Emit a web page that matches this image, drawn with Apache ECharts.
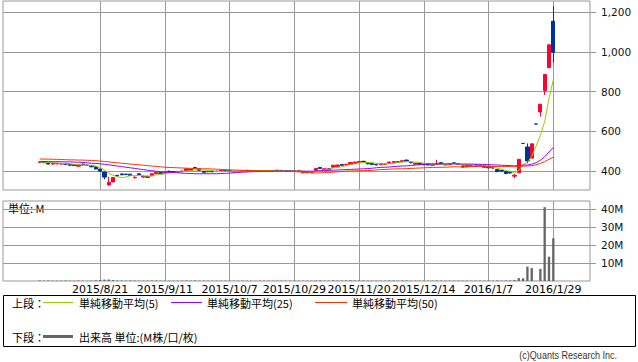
<!DOCTYPE html>
<html><head><meta charset="utf-8">
<script src="https://cdn.jsdelivr.net/npm/echarts@6/dist/echarts.min.js"></script>
<style>html,body{margin:0;padding:0;background:#fff}#c{width:638px;height:362px}</style>
</head><body><div id="c"></div>
<script>
const dates = [
"2015/8/3","2015/8/4","2015/8/5","2015/8/6","2015/8/7","2015/8/10","2015/8/11","2015/8/12","2015/8/13","2015/8/14",
"2015/8/17","2015/8/18","2015/8/19","2015/8/20","2015/8/21","2015/8/24","2015/8/25","2015/8/26","2015/8/27","2015/8/28",
"2015/8/31","2015/9/1","2015/9/2","2015/9/3","2015/9/4","2015/9/7","2015/9/8","2015/9/9","2015/9/10","2015/9/11",
"2015/9/14","2015/9/15","2015/9/16","2015/9/17","2015/9/18","2015/9/24","2015/9/25","2015/9/28","2015/9/29","2015/9/30",
"2015/10/1","2015/10/2","2015/10/5","2015/10/6","2015/10/7","2015/10/8","2015/10/9","2015/10/13","2015/10/14","2015/10/15",
"2015/10/16","2015/10/19","2015/10/20","2015/10/21","2015/10/22","2015/10/23","2015/10/26","2015/10/27","2015/10/28","2015/10/29",
"2015/10/30","2015/11/2","2015/11/4","2015/11/5","2015/11/6","2015/11/9","2015/11/10","2015/11/11","2015/11/12","2015/11/13",
"2015/11/16","2015/11/17","2015/11/18","2015/11/19","2015/11/20","2015/11/24","2015/11/25","2015/11/26","2015/11/27","2015/11/30",
"2015/12/1","2015/12/2","2015/12/3","2015/12/4","2015/12/7","2015/12/8","2015/12/9","2015/12/10","2015/12/11","2015/12/14",
"2015/12/15","2015/12/16","2015/12/17","2015/12/18","2015/12/21","2015/12/22","2015/12/24","2015/12/25","2015/12/28","2015/12/29",
"2015/12/30","2016/1/4","2016/1/5","2016/1/6","2016/1/7","2016/1/8","2016/1/12","2016/1/13","2016/1/14","2016/1/15",
"2016/1/18","2016/1/19","2016/1/20","2016/1/21","2016/1/22","2016/1/25","2016/1/26","2016/1/27","2016/1/28","2016/1/29"];

const tickLabels = ["2015/8/21","2015/9/11","2015/10/7","2015/10/29","2015/11/20","2015/12/14","2016/1/7","2016/1/29"];
const priceTicks = [400, 600, 800, 1000, 1200];
const volumeTicks = [10, 20, 30, 40];

const opens = [
442,446,442,434,435,434,437,433,432,423,
434,429,427,420,409,394,328,344,377,384,
383,383,365,385,368,372,375,385,390,388,
398,396,393,398,400,407,416,410,397,395,
399,398,399,401,400,397,396,398,399,402,
400,401,401,399,400,403,402,401,400,399,
400,395,393,392,402,417,405,410,418,420,
432,430,432,436,442,448,440,438,432,430,
431,438,440,445,446,454,444,433,438,433,
436,428,432,441,432,430,440,434,418,420,
428,430,428,425,423,420,406,402,396,395,
373,390,538,520,464,636,697,805,921,1155];
const closes = [
445,441,434,439,438,437,433,428,426,431,
429,427,420,409,398,368,342,366,374,380,
381,376,367,380,373,367,385,392,387,393,
394,393,396,397,410,404,414,401,392,398,
395,396,401,399,398,394,398,400,403,400,
401,400,399,400,399,400,399,398,398,401,
402,390,392,395,412,412,410,406,428,429,
428,433,442,444,447,444,435,432,430,436,
435,444,447,443,451,448,441,438,432,431,
429,434,437,434,430,436,437,432,425,427,
424,422,424,418,415,414,396,398,386,389,
378,458,538,450,536,636,736,886,1036,998];
const lows = [
440,439,432,432,433,432,428,425,425,422,
427,425,418,407,396,357,326,342,372,378,
378,374,361,378,365,364,373,383,385,386,
392,391,392,395,398,402,410,399,390,393,
393,394,397,397,396,392,394,396,398,398,
399,398,397,398,398,399,398,397,397,398,
399,388,389,390,400,410,402,403,416,418,
425,428,430,434,440,441,433,428,427,429,
429,436,438,440,444,446,438,431,430,428,
427,426,430,432,428,428,434,430,415,417,
421,419,420,415,412,411,393,395,383,386,
363,388,538,438,462,636,674,783,917,946];
const highs = [
447,447,443,440,439,438,440,436,433,432,
435,431,428,422,410,396,370,368,379,386,
385,384,372,387,375,374,386,394,392,395,
400,398,398,400,412,409,420,411,398,399,
401,400,403,403,402,399,399,401,404,403,
402,402,403,401,401,404,403,402,401,403,
403,397,395,397,414,419,411,412,430,431,
434,435,444,446,449,450,442,439,434,438,
436,446,449,448,453,456,446,440,440,435,
438,436,455,443,434,438,444,436,427,428,
430,432,430,427,425,421,408,405,398,400,
383,458,538,538,537,636,736,886,1036,1232];
const volumes = [
0.3,0.2,0.3,0.2,0.2,0.2,0.3,0.2,0.2,0.3,
0.2,0.2,0.3,0.4,0.5,0.8,0.9,0.6,0.3,0.3,
0.2,0.3,0.3,0.2,0.2,0.2,0.3,0.3,0.2,0.2,
0.2,0.2,0.2,0.2,0.3,0.2,0.3,0.2,0.2,0.2,
0.2,0.2,0.2,0.2,0.2,0.2,0.2,0.2,0.2,0.2,
0.2,0.2,0.2,0.2,0.2,0.2,0.2,0.2,0.2,0.2,
0.2,0.2,0.2,0.2,0.3,0.3,0.2,0.2,0.4,0.3,
0.3,0.3,0.4,0.3,0.3,0.3,0.2,0.2,0.2,0.2,
0.2,0.3,0.3,0.2,0.3,0.3,0.2,0.2,0.2,0.2,
0.2,0.2,0.3,0.2,0.2,0.2,0.2,0.2,0.2,0.2,
0.2,0.2,0.2,0.2,0.2,0.2,0.3,0.2,0.3,0.3,
0.5,1.6,1.5,8.0,7.2,0.1,6.7,41.0,13.5,23.7];
const ma5 = [
444,444,442,441,439.4,437.8,436.2,435,432.4,431,
429.4,428.2,426.6,423.2,416.6,404.4,387.4,376.6,369.6,366,
368.6,375.4,375.6,376.8,375.4,372.6,374.4,379.4,380.8,384.8,
390.2,391.8,392.6,394.6,398,400,404.2,405.2,404.2,401.8,
400,396.4,396.4,397.8,397.8,397.6,398,397.8,398.6,399,
400.4,400.8,400.6,400,399.8,399.6,399.4,399.2,398.8,399.2,
399.6,397.8,396.6,396,398.2,400.2,404.2,407,413.6,417,
420.2,424.8,432,435.2,438.8,442,442.4,440.4,437.6,435.4,
433.6,435.4,438.4,441,444,446.6,446,444.2,442,438,
434.2,432.8,432.6,433,432.8,434.2,434.8,433.8,432,431.4,
429,426,424.4,423,420.6,418.6,413.4,408.2,401.8,396.6,
389.4,401.8,429.8,442.6,472,523.6,579.2,648.8,766,858.4];
const ma25 = [
447,447,447,446,446,446,445,445,444,443,
442,440,438,437,435,433,430,427,424,421,
418,415,412,409,406,403,400,398,396,394,
392,391,390,388,387,386,385,385,385,385,
385,385,386,387,388,390,391,393,394,395,
396,396,397,397,398,398,398,398,398,398,
398,398,398,398,399,400,401,402,403,404,
405,406,407,408,409,410,411,413,415,417,
418,419,421,423,424,425,427,429,431,433,
434,434,434,435,435,435,435,435,434,434,
434,433,433,432,431,430,429,428,427,426,
425,426,429,429,433,441,453,471,495,518];
const ma50 = [
460,459,459,458,458,457,456,455,455,454,
454,453,452,451,449,447,445,442,440,438,
436,434,432,430,428,426,424,422,420,418,
417,416,415,414,413,412,411,410,410,410,
409,408,407,406,405,404,403,402,401,400,
400,400,399,399,399,398,398,397,397,396,
395,392,390,389,389,389,391,392,393,395,
397,398,399,400,400,401,401,402,404,406,
407,408,409,410,410,411,412,413,414,415,
416,417,417,418,418,419,420,420,421,421,
421,422,422,422,422,422,422,422,421,421,
421,422,423,424,426,430,437,446,458,469];

const PADL = 8, PADR = 8;
const UP = '#ff0033', DOWN = '#003399';
const C5 = '#99cc00', C25 = '#9900ff', C50 = '#ff3300', CVOL = '#666666';
const GRID = '#999999';
const NUMFONT = '"DejaVu Sans", "Noto Sans CJK JP", sans-serif';
const JPFONT = '"Noto Sans CJK JP", "DejaVu Sans", sans-serif';
const LATIN = '"Liberation Sans", sans-serif';

function padded(arr) {
  const out = [];
  for (let i = 0; i < PADL; i++) out.push('-');
  arr.forEach(v => out.push(v));
  for (let i = 0; i < PADR; i++) out.push('-');
  return out;
}
const cats = padded(dates).map(v => v === '-' ? '' : v);
const candleData = padded(dates.map((d, i) => [opens[i], closes[i], lows[i], highs[i]]))
  .map(v => v === '-' ? ['-', '-', '-', '-'] : v);
const showTick = (idx, val) => tickLabels.indexOf(val) >= 0;

const chart = echarts.init(document.getElementById('c'), null, {renderer: 'svg'});
chart.setOption({
  animation: false,
  backgroundColor: '#fff',
  grid: [
    {left: 3, right: 48, top: 1, height: 189, show: true, borderColor: GRID, borderWidth: 1, backgroundColor: 'transparent'},
    {left: 3, right: 48, top: 201, height: 80, show: true, borderColor: GRID, borderWidth: 1, backgroundColor: 'transparent'}
  ],
  xAxis: [
    {type: 'category', gridIndex: 0, data: cats, boundaryGap: true,
     axisLine: {show: false}, axisTick: {show: false}, axisLabel: {show: false},
     splitLine: {show: true, alignWithLabel: true, interval: showTick, lineStyle: {color: GRID, width: 1}}},
    {type: 'category', gridIndex: 1, data: cats, boundaryGap: true,
     axisLine: {show: false}, axisTick: {show: false},
     axisLabel: {show: true, interval: showTick, margin: 3, fontSize: 11, fontFamily: NUMFONT, color: '#000'},
     splitLine: {show: true, alignWithLabel: true, interval: showTick, lineStyle: {color: GRID, width: 1}}}
  ],
  yAxis: [
    {type: 'value', gridIndex: 0, position: 'right', min: 303, max: 1257, scale: true,
     axisLine: {show: false},
     axisTick: {show: true, length: 6, lineStyle: {color: GRID}, customValues: priceTicks},
     axisLabel: {show: true, customValues: priceTicks, margin: 11, fontSize: 10.5, fontFamily: NUMFONT, color: '#111',
       formatter: v => v.toLocaleString('en-US')},
     splitLine: {show: true, customValues: priceTicks, lineStyle: {color: GRID, width: 1}}},
    {type: 'value', gridIndex: 1, position: 'right', min: 0, max: 44.4,
     axisLine: {show: false},
     axisTick: {show: true, length: 6, lineStyle: {color: GRID}, customValues: volumeTicks},
     axisLabel: {show: true, customValues: volumeTicks, margin: 11, fontSize: 10.5, fontFamily: NUMFONT, color: '#111',
       formatter: v => v + 'M'},
     splitLine: {show: true, customValues: volumeTicks, lineStyle: {color: GRID, width: 1}}}
  ],
  series: [
    {type: 'candlestick', name: '株価', xAxisIndex: 0, yAxisIndex: 0, data: candleData, barWidth: '86%',
     itemStyle: {color: UP, color0: DOWN, borderColor: UP, borderColor0: DOWN, borderColorDoji: DOWN, borderWidth: 1}, z: 2},
    {type: 'line', name: '単純移動平均(5)', xAxisIndex: 0, yAxisIndex: 0, data: padded(ma5), showSymbol: false, symbol: 'none',
     lineStyle: {color: C5, width: 1}, itemStyle: {color: C5}, z: 3},
    {type: 'line', name: '単純移動平均(25)', xAxisIndex: 0, yAxisIndex: 0, data: padded(ma25), showSymbol: false, symbol: 'none',
     lineStyle: {color: C25, width: 1}, itemStyle: {color: C25}, z: 3},
    {type: 'line', name: '単純移動平均(50)', xAxisIndex: 0, yAxisIndex: 0, data: padded(ma50), showSymbol: false, symbol: 'none',
     lineStyle: {color: C50, width: 1}, itemStyle: {color: C50}, z: 3},
    {type: 'bar', name: '出来高', xAxisIndex: 1, yAxisIndex: 1, data: padded(volumes), barWidth: '54%',
     itemStyle: {color: CVOL}}
  ],
  graphic: [
    {type: 'text', x: 8, y: 208, style: {text: '単位: M', font: '11px ' + JPFONT, fill: '#000', verticalAlign: 'middle', textVerticalAlign: 'middle'}},
    {type: 'rect', shape: {x: 3.5, y: 295.5, width: 632, height: 51}, style: {fill: 'none', stroke: '#000', lineWidth: 1}},
    {type: 'text', x: 12, y: 303, style: {text: '上段：', font: '11px ' + JPFONT, fill: '#000', verticalAlign: 'middle', textVerticalAlign: 'middle'}},
    {type: 'line', shape: {x1: 43, y1: 302.5, x2: 73, y2: 302.5}, style: {stroke: C5, lineWidth: 1}},
    {type: 'text', x: 79, y: 303, style: {text: '単純移動平均(5)', font: '11px ' + JPFONT, fill: '#000', verticalAlign: 'middle', textVerticalAlign: 'middle'}},
    {type: 'line', shape: {x1: 171, y1: 302.5, x2: 202, y2: 302.5}, style: {stroke: C25, lineWidth: 1}},
    {type: 'text', x: 207, y: 303, style: {text: '単純移動平均(25)', font: '11px ' + JPFONT, fill: '#000', verticalAlign: 'middle', textVerticalAlign: 'middle'}},
    {type: 'line', shape: {x1: 315, y1: 302.5, x2: 347, y2: 302.5}, style: {stroke: C50, lineWidth: 1}},
    {type: 'text', x: 352, y: 303, style: {text: '単純移動平均(50)', font: '11px ' + JPFONT, fill: '#000', verticalAlign: 'middle', textVerticalAlign: 'middle'}},
    {type: 'text', x: 12, y: 337, style: {text: '下段：', font: '11px ' + JPFONT, fill: '#000', verticalAlign: 'middle', textVerticalAlign: 'middle'}},
    {type: 'line', shape: {x1: 43, y1: 336.5, x2: 73, y2: 336.5}, style: {stroke: CVOL, lineWidth: 3}},
    {type: 'text', x: 79, y: 337, style: {text: '出来高 単位:(M株/口/枚)', font: '11px ' + JPFONT, fill: '#000', verticalAlign: 'middle', textVerticalAlign: 'middle'}},
    {type: 'text', x: 617, y: 355, scaleX: 0.82, style: {text: '(c)Quants Research Inc.', font: '11px ' + LATIN, fill: '#333', align: 'right', textAlign: 'right', verticalAlign: 'middle', textVerticalAlign: 'middle'}}
  ]
});
</script></body></html>
